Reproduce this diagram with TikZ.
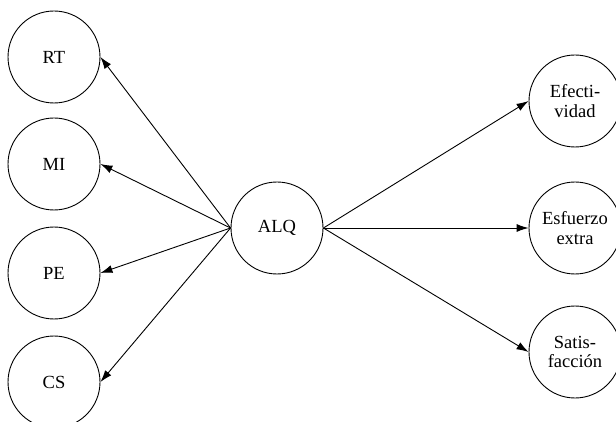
\documentclass[tikz,border=0pt]{standalone}
\usepackage{fontspec}
\setmainfont{Liberation Serif}
\usetikzlibrary{arrows.meta, positioning}

\begin{document}
\begin{tikzpicture}[x=1pt, y=1pt,
  construct/.style={circle, draw, line width=0.9pt, minimum size=92pt, inner sep=0pt, align=center, font=\fontsize{18.5pt}{19.5pt}\selectfont},
  link/.style={-{Latex[length=12pt, width=8pt]}, line width=0.9pt}]
\useasboundingbox (0,0) rectangle (616,-422);

\node[construct] (rt) at (54,-57) {RT};
\node[construct] (mi) at (54,-164) {MI};
\node[construct] (pe) at (54,-273) {PE};
\node[construct] (cs) at (54,-382) {CS};
\node[construct] (alq) at (277,-228) {ALQ};
\node[construct] (efect) at (575,-101) {Efecti-\\vidad};
\node[construct] (esfuerzo) at (575,-228) {Esfuerzo\\extra};
\node[construct] (satis) at (575,-352) {Satis-\\facción};

% ALQ towards the four factors on the left
\draw[link] (alq.west) -- (rt.east);
\draw[link] (alq.west) -- (mi.east);
\draw[link] (alq.west) -- (pe.east);
\draw[link] (alq.west) -- (cs.east);

% outcomes on the right
\draw[link] (alq.east) -- (efect.west);
\draw[link] (alq.east) -- (esfuerzo.west);
\draw[link] (alq.east) -- (satis.west);
\end{tikzpicture}
\end{document}
